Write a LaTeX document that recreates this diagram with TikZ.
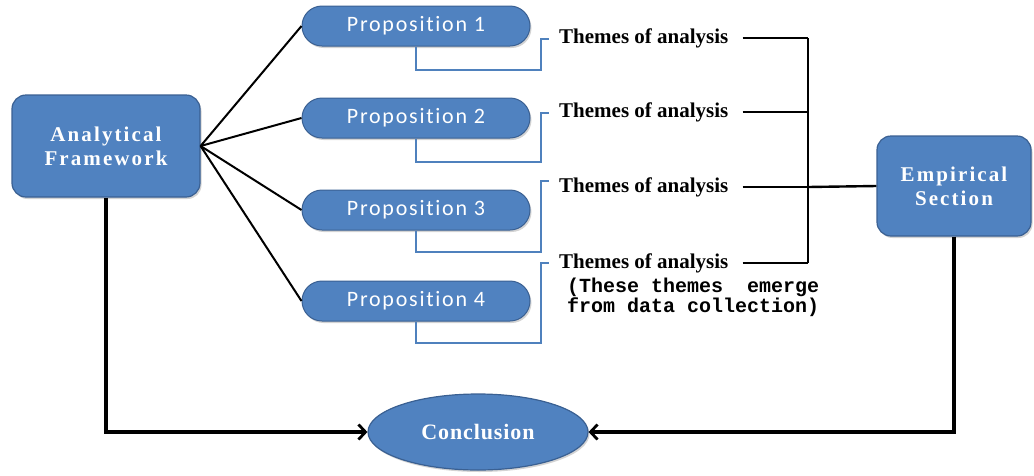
\documentclass[tikz,border=0pt]{standalone}
\usepackage{fontspec}
\setmainfont{Liberation Serif}
\setmonofont{Liberation Mono}
\newfontfamily\propfont[LetterSpace=8,Ligatures=NoCommon]{Carlito}
\usepackage{tikz}
\usetikzlibrary{arrows.meta,positioning,calc,shapes.geometric,shadows}
\definecolor{boxblue}{RGB}{80,130,192}
\definecolor{boxedge}{RGB}{58,96,146}
\definecolor{linkblue}{RGB}{79,129,189}

\begin{document}
\begin{tikzpicture}[x=1pt,y=-1pt]
\tikzset{block/.style={draw=boxedge,line width=1.2pt,fill=boxblue,rounded corners=14pt,text=white,align=center,
  drop shadow={opacity=0.35,shadow xshift=1.5pt,shadow yshift=-2pt},
  font=\fontsize{21}{24}\selectfont\bfseries\addfontfeature{LetterSpace=10}}}
\tikzset{prop/.style={draw=boxedge,line width=1pt,fill=boxblue,rounded corners=20pt,minimum width=228pt,minimum height=40pt,text=white,
  drop shadow={opacity=0.35,shadow xshift=1.5pt,shadow yshift=-2pt},font=\propfont\fontsize{22}{24}\selectfont}}
\tikzset{theme/.style={anchor=west,inner sep=0pt,font=\fontsize{21}{22}\selectfont\bfseries}}
\tikzset{bracket/.style={draw=linkblue,line width=2pt}}
\tikzset{branch/.style={draw=black,line width=2.4pt}}
\tikzset{flow/.style={draw=black,line width=3.2pt,-{Straight Barb[length=7pt,width=15pt,line width=2.8pt]}}}
\useasboundingbox (0,0) rectangle (1034,475);

\node[block,minimum width=188pt,minimum height=102pt] (af) at (106,146) {Analytical\\Framework};
\node[block,minimum width=154pt,minimum height=100pt] (emp) at (954,186) {Empirical\\Section};
\node[ellipse,draw=boxedge,line width=1.2pt,fill=boxblue,minimum width=220pt,minimum height=76pt,text=white,
  drop shadow={opacity=0.35,shadow xshift=1.5pt,shadow yshift=-2pt},
  font=\fontsize{22}{24}\selectfont\bfseries\addfontfeature{LetterSpace=4}] (concl) at (478,432) {Conclusion};

\foreach \i/\y/\ty/\dn/\up in {1/26/38/23/31, 2/118/112/23/49, 3/210/187/21/71, 4/301/263/21/80}{
  \node[prop] (p\i) at (416,\y) {Proposition \i};
  \node[theme] (t\i) at (559,\ty) {Themes of analysis};
  \coordinate (j\i) at (808,\ty);
  \draw[branch,line width=2pt] (af.east) -- (p\i.west);
  \draw[bracket] (p\i.south) -- ++(0,\dn) -- ++(125,0) -- ++(0,-\up) -- ++(8,0);
  \draw[branch] ($(t\i.east)+(14,0)$) -- (j\i);
}
\node[anchor=north west,inner sep=0pt,align=left,font=\ttfamily\bfseries\fontsize{20}{18}\selectfont] (note) at (567,278)
  {(These themes~~emerge\\from data collection)};

\draw[branch] (j1) -- (j4);
\draw[branch] (j3) -- (emp.west);
\draw[flow] (af.south) |- (concl.west);
\draw[flow] (emp.south) |- (concl.east);
\end{tikzpicture}
\end{document}
